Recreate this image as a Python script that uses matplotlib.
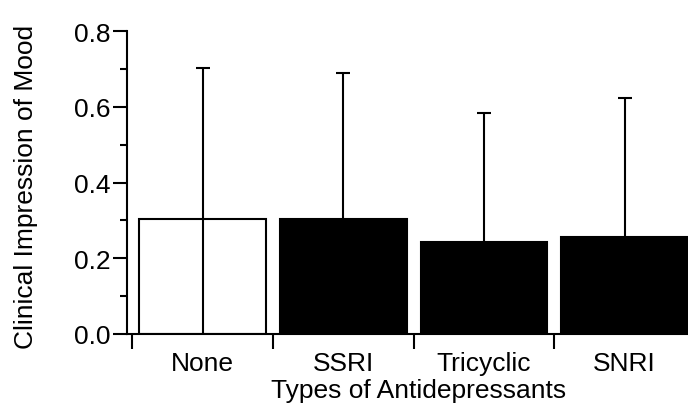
import matplotlib
matplotlib.use("Agg")
import matplotlib.pyplot as plt
from matplotlib.ticker import FixedLocator, NullFormatter

# values
categories = ["None", "SSRI", "Tricyclic", "SNRI"]
means = [0.304, 0.304, 0.242, 0.255]
errors = [0.398, 0.384, 0.341, 0.368]
fills = ["white", "black", "black", "black"]
yticks = [0.0, 0.2, 0.4, 0.6, 0.8]
yminor = [0.1, 0.3, 0.5, 0.7]

plt.rcParams['font.family'] = ['Liberation Sans', 'DejaVu Sans']
plt.rcParams['font.size'] = 19

fig = plt.figure(figsize=(6.88, 4.06), dpi=100)
ax = fig.add_axes([0.1846, 0.175, 0.8154, 0.746])

xpos = list(range(len(categories)))
ax.bar(xpos, means, width=0.9, color=fills, edgecolor="black", linewidth=1.5, zorder=1)
ax.errorbar(xpos, means, yerr=errors, fmt="none", ecolor="black",
            elinewidth=1.5, capsize=5, capthick=1.5, zorder=2)

ax.set_xlim(-0.537, 3.451)
ax.set_ylim(0, 0.8)

for s in ["top", "right"]:
    ax.spines[s].set_visible(False)
for s in ["left", "bottom"]:
    ax.spines[s].set_linewidth(1.5)

# y axis
ax.set_yticks(yticks)
ax.set_yticklabels(["%.1f" % v for v in yticks])
ax.yaxis.set_minor_locator(FixedLocator(yminor))
ax.tick_params(axis="y", which="major", length=10, width=1.5, pad=2)
ax.tick_params(axis="y", which="minor", length=5, width=1.5)

# x axis: ticks at the boundaries, labels at bar centres
bounds = [x - 0.5 for x in xpos] + [len(xpos) - 0.5]
ax.xaxis.set_major_locator(FixedLocator(bounds))
ax.xaxis.set_major_formatter(NullFormatter())
ax.xaxis.set_minor_locator(FixedLocator(xpos))
ax.set_xticklabels(categories, minor=True)
ax.tick_params(axis="x", which="major", length=11, width=1.5)
ax.tick_params(axis="x", which="minor", length=0, pad=12)

ax.set_ylabel("Clinical Impression of Mood")
ax.yaxis.set_label_coords(-0.158, 0.49)
ax.set_xlabel("Types of Antidepressants")
ax.xaxis.set_label_coords(0.52, -0.145)
ax.xaxis.label.set_va("top")

fig.savefig("out.png", dpi=100)
